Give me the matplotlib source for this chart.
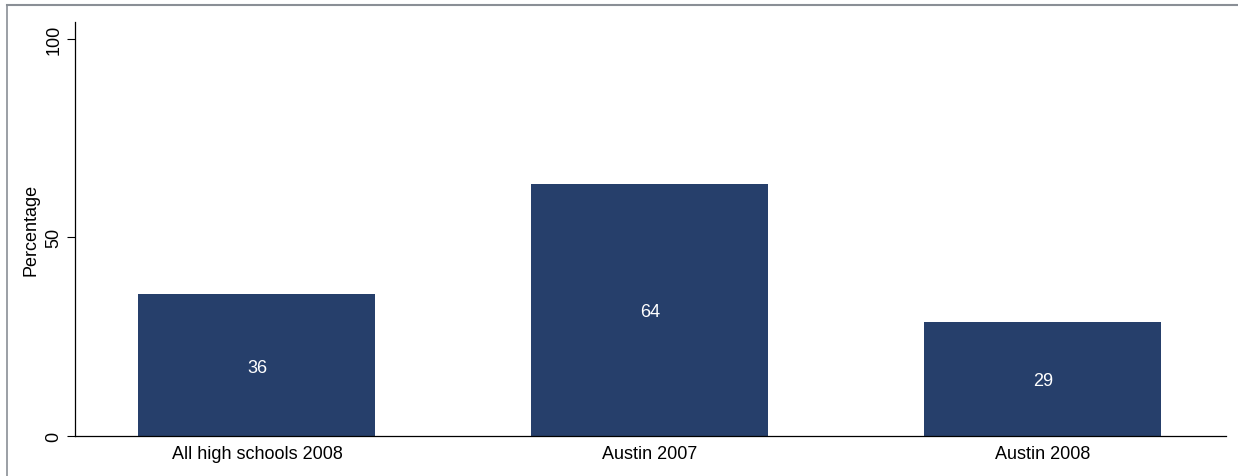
import matplotlib.pyplot as plt
from matplotlib.lines import Line2D

plt.rcParams["font.family"] = ["Liberation Sans", "DejaVu Sans"]

categories = ["All high schools 2008", "Austin 2007", "Austin 2008"]
values = [35.6, 63.5, 28.7]
yticks = [0, 50, 100]

BAR = "#263f6b"

fig = plt.figure(figsize=(12.38, 4.77), dpi=100)
ax = fig.add_axes([75 / 1238, 1 - 436.7 / 477, (1226 - 75) / 1238, (436.7 - 23) / 477])

x = list(range(len(categories)))
bars = ax.bar(x, values, width=0.603, color=BAR, edgecolor="none")
for xi, v in zip(x, values):
    ax.text(xi, v / 2, f"{round(v):d}", ha="center", va="center_baseline",
            color="white", fontsize=13)

ax.set_xlim(-0.463, 2.466)
ax.set_ylim(0, 104.2)
ax.set_xticks(x)
ax.set_xticklabels(categories, fontsize=13)
ax.set_yticks(yticks)
ax.set_yticklabels([str(t) for t in yticks], fontsize=13, rotation=90, va="center")
ax.tick_params(axis="x", length=0, pad=7)
ax.tick_params(axis="y", length=6, width=0.8, pad=3)
ax.set_ylabel("Percentage", fontsize=13, labelpad=4)
for s in ("top", "right"):
    ax.spines[s].set_visible(False)
for s in ("left", "bottom"):
    ax.spines[s].set_linewidth(0.9)

# outer frame of the original graph (top and left edges only are visible)
fig.add_artist(Line2D([7 / 1238, 1], [1 - 6 / 477, 1 - 6 / 477],
                      transform=fig.transFigure, color="#8a8f96", lw=1.5))
fig.add_artist(Line2D([7 / 1238, 7 / 1238], [0, 1 - 6 / 477],
                      transform=fig.transFigure, color="#8a8f96", lw=1.2))

fig.savefig("out.png", dpi=100, facecolor="white")
